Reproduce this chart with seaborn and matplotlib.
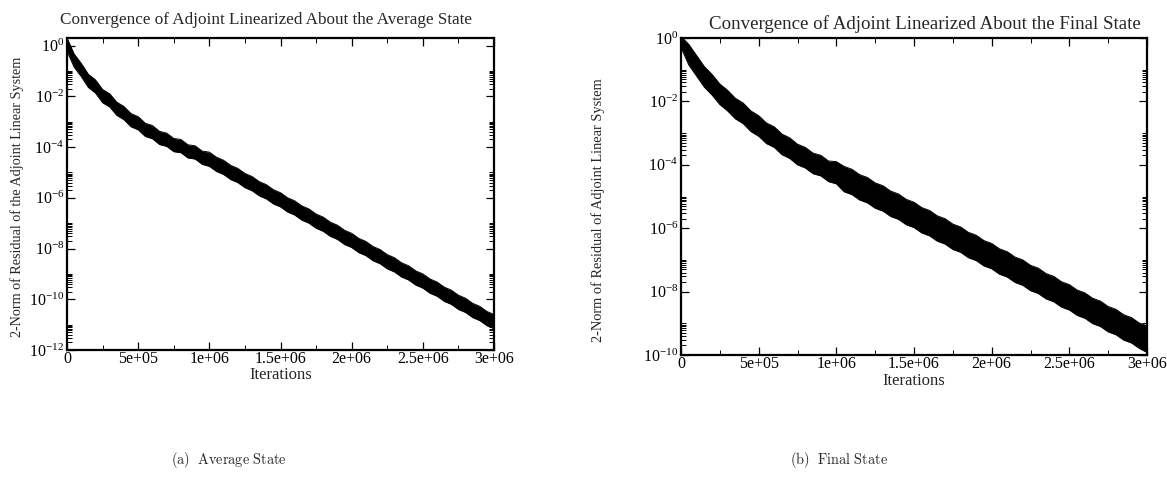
import numpy as np
import pandas as pd
import matplotlib
matplotlib.use("Agg")
import matplotlib.pyplot as plt
import seaborn as sns
from matplotlib.ticker import FixedLocator, FixedFormatter, NullFormatter

# Residual history sampled every 50,000 iterations; the oscillating trace is
# stored as its upper and lower envelopes (log10 of the 2-norm).
iterations = np.arange(0, 3_000_001, 50_000)

avg_upper_log10 = [
    0.30, -0.33, -0.70, -1.13, -1.35, -1.73, -1.90, -2.23, -2.40, -2.68,
    -2.80, -3.06, -3.15, -3.38, -3.45, -3.66, -3.70, -3.91, -3.95, -4.16,
    -4.20, -4.40, -4.52, -4.72, -4.84, -5.04, -5.16, -5.36, -5.48, -5.68,
    -5.80, -6.00, -6.12, -6.32, -6.44, -6.64, -6.76, -6.96, -7.08, -7.28,
    -7.40, -7.60, -7.72, -7.92, -8.04, -8.24, -8.36, -8.56, -8.68, -8.88,
    -9.00, -9.20, -9.32, -9.52, -9.64, -9.84, -9.96, -10.16, -10.28, -10.48,
    -10.60,
]
avg_lower_log10 = [
    -0.22, -0.85, -1.22, -1.65, -1.87, -2.25, -2.42, -2.75, -2.92, -3.20,
    -3.32, -3.58, -3.67, -3.90, -3.97, -4.18, -4.22, -4.43, -4.47, -4.68,
    -4.76, -4.96, -5.08, -5.28, -5.40, -5.60, -5.72, -5.92, -6.04, -6.24,
    -6.36, -6.56, -6.68, -6.88, -7.00, -7.20, -7.32, -7.52, -7.64, -7.84,
    -7.96, -8.16, -8.28, -8.48, -8.60, -8.80, -8.92, -9.12, -9.24, -9.44,
    -9.56, -9.76, -9.88, -10.08, -10.20, -10.40, -10.52, -10.72, -10.84, -11.04,
    -11.16,
]
fin_upper_log10 = [
    0.05, -0.20, -0.55, -0.90, -1.15, -1.45, -1.65, -1.90, -2.05, -2.30,
    -2.45, -2.68, -2.80, -3.03, -3.15, -3.35, -3.45, -3.63, -3.70, -3.88,
    -3.90, -4.05, -4.14, -4.31, -4.40, -4.57, -4.66, -4.83, -4.92, -5.09,
    -5.18, -5.35, -5.44, -5.61, -5.70, -5.87, -5.96, -6.13, -6.22, -6.39,
    -6.48, -6.65, -6.74, -6.91, -7.00, -7.17, -7.26, -7.43, -7.52, -7.69,
    -7.78, -7.95, -8.04, -8.21, -8.30, -8.47, -8.56, -8.73, -8.82, -8.99,
    -9.08,
]
fin_lower_log10 = [
    -0.30, -0.85, -1.20, -1.55, -1.80, -2.10, -2.30, -2.55, -2.70, -2.95,
    -3.10, -3.33, -3.45, -3.68, -3.80, -4.00, -4.10, -4.28, -4.35, -4.53,
    -4.60, -4.85, -4.94, -5.11, -5.20, -5.37, -5.46, -5.63, -5.72, -5.89,
    -5.98, -6.15, -6.24, -6.41, -6.50, -6.67, -6.76, -6.93, -7.02, -7.19,
    -7.28, -7.45, -7.54, -7.71, -7.80, -7.97, -8.06, -8.23, -8.32, -8.49,
    -8.58, -8.75, -8.84, -9.01, -9.10, -9.27, -9.36, -9.53, -9.62, -9.79,
    -9.92,
]

x_major = [0, 500_000, 1_000_000, 1_500_000, 2_000_000, 2_500_000, 3_000_000]
x_labels = ["0", "5e+05", "1e+06", "1.5e+06", "2e+06", "2.5e+06", "3e+06"]
x_minor = [250_000, 750_000, 1_250_000, 1_750_000, 2_250_000, 2_750_000]

avg_exponents = [0, -2, -4, -6, -8, -10, -12]
fin_exponents = [0, -2, -4, -6, -8, -10]

titles = [
    "Convergence of Adjoint Linearized About the Average State",
    "Convergence of Adjoint Linearized About the Final State",
]
ylabels = [
    "2-Norm of Residual of the Adjoint Linear System",
    "2-Norm of Residual of Adjoint Linear System",
]
captions = [r"$\mathrm{(a)\ \ Average\ State}$", r"$\mathrm{(b)\ \ Final\ State}$"]

sns.set_theme(style="ticks")
plt.rcParams["font.family"] = ["Liberation Serif", "DejaVu Serif"]
plt.rcParams["mathtext.fontset"] = "stix"
plt.rcParams["axes.linewidth"] = 1.6
plt.rcParams["axes.edgecolor"] = "black"

W, H = 1167, 483
fig = plt.figure(figsize=(W / 100, H / 100), dpi=100)
fig.patch.set_facecolor("white")


def px_rect(x0, x1, y0, y1):
    return [x0 / W, 1 - y1 / H, (x1 - x0) / W, (y1 - y0) / H]


ax_avg = fig.add_axes(px_rect(67, 494, 38, 350))
ax_fin = fig.add_axes(px_rect(681, 1147, 38, 355))


def draw_panel(ax, upper, lower, exponents, ytop, tick_size, xlabel_pad):
    up = 10.0 ** np.asarray(upper)
    lo = 10.0 ** np.asarray(lower)
    ax.fill_between(iterations, lo, up, color="black", linewidth=0)
    env = pd.DataFrame({
        "iteration": np.concatenate([iterations, iterations]),
        "residual": np.concatenate([up, lo]),
        "edge": ["upper"] * len(iterations) + ["lower"] * len(iterations),
    })
    sns.lineplot(data=env, x="iteration", y="residual", units="edge",
                 estimator=None, color="black", linewidth=0.7, ax=ax,
                 legend=False)
    ax.set_yscale("log")
    ax.set_xlim(0, 3_000_000)
    ax.set_ylim(10.0 ** exponents[-1], ytop)

    ax.xaxis.set_major_locator(FixedLocator(x_major))
    ax.xaxis.set_major_formatter(FixedFormatter(x_labels))
    ax.xaxis.set_minor_locator(FixedLocator(x_minor))

    majors = [10.0 ** e for e in exponents]
    minors = [k * 10.0 ** e for e in exponents[1:] for k in range(2, 11)]
    ax.yaxis.set_major_locator(FixedLocator(majors))
    ax.yaxis.set_major_formatter(FixedFormatter(
        [r"$\mathdefault{10^{%d}}$" % e for e in exponents]))
    ax.yaxis.set_minor_locator(FixedLocator(minors))
    ax.yaxis.set_minor_formatter(NullFormatter())

    ax.tick_params(which="both", direction="in", top=True, right=True,
                   colors="black", labelsize=tick_size)
    ax.tick_params(which="major", length=6, width=0.9, pad=2)
    ax.tick_params(axis="x", which="major", pad=0.5)
    ax.tick_params(which="minor", length=3.5, width=0.7)
    ax.set_xlabel("Iterations", fontsize=tick_size + 0.5, labelpad=xlabel_pad)
    ax.set_ylabel("")
    ax.set_facecolor("white")
    for s in ax.spines.values():
        s.set_visible(True)
        s.set_linewidth(1.6)


draw_panel(ax_avg, avg_upper_log10, avg_lower_log10, avg_exponents,
           10.0 ** 0.3, 11.5, 0)
draw_panel(ax_fin, fin_upper_log10, fin_lower_log10, fin_exponents,
           1.0, 11.5, 1)

fig.text(266 / W, 1 - 20 / H, titles[0], ha="center", va="center",
         fontsize=12.3)
fig.text(925 / W, 1 - 24 / H, titles[1], ha="center", va="center",
         fontsize=13.6)
fig.text(17 / W, 1 - 197 / H, ylabels[0], rotation=90, ha="center",
         va="center", fontsize=10.2)
fig.text(598 / W, 1 - 210 / H, ylabels[1], rotation=90, ha="center",
         va="center", fontsize=10.4)
fig.text(229 / W, 1 - 460 / H, captions[0], ha="center", va="center",
         fontsize=10.3, math_fontfamily="cm")
fig.text(839 / W, 1 - 460 / H, captions[1], ha="center", va="center",
         fontsize=10.3, math_fontfamily="cm")

fig.savefig("out.png", dpi=100, facecolor="white")
